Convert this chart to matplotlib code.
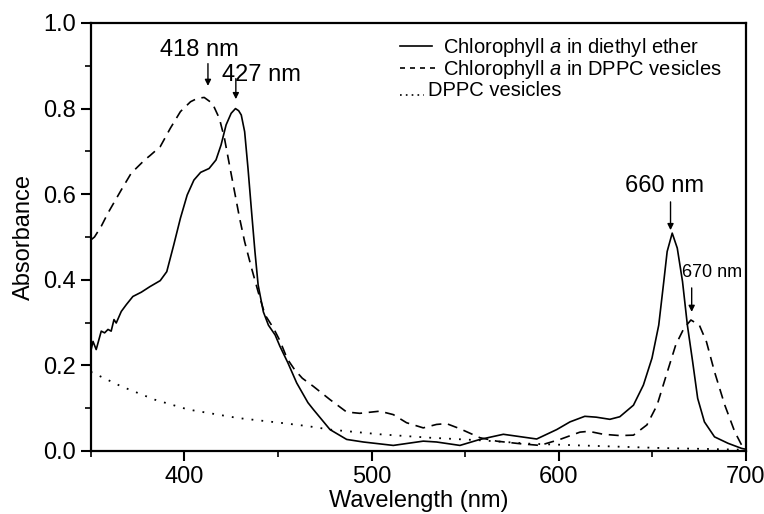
import matplotlib
matplotlib.use("Agg")
import matplotlib.pyplot as plt
from matplotlib.lines import Line2D
from matplotlib.ticker import MultipleLocator

plt.rcParams["font.family"] = "Liberation Sans"
plt.rcParams["mathtext.fontset"] = "custom"
plt.rcParams["mathtext.rm"] = "Liberation Sans"
plt.rcParams["mathtext.it"] = "Liberation Sans:italic"

# Chlorophyll a in diethyl ether (solid)
ether_nm = [350.0, 351.2, 352.9, 355.6, 357.4, 359.2, 360.9, 362.4, 363.6, 366.3,
            369.0, 372.5, 377.0, 381.6, 387.1, 390.6, 394.3, 397.9, 401.5, 405.1,
            408.7, 413.2, 416.9, 419.6, 422.3, 425.0, 427.3, 429.0, 430.4, 432.2,
            434.0, 435.9, 437.7, 439.4, 442.2, 444.9, 448.5, 451.0, 455.3, 460.0,
            466.0, 468.9, 477.8, 486.7, 495.6, 511.6, 527.6, 534.7, 547.2, 557.9,
            570.4, 588.2, 598.9, 606.0, 613.9, 620.0, 627.3, 632.6, 639.9, 645.2,
            649.8, 653.4, 656.1, 657.9, 660.6, 663.3, 666.1, 668.7, 671.5, 674.2,
            677.8, 683.2, 690.4, 697.7, 700.0]
ether_abs = [0.233, 0.256, 0.237, 0.280, 0.276, 0.284, 0.280, 0.307, 0.299, 0.326,
             0.342, 0.361, 0.371, 0.384, 0.398, 0.419, 0.481, 0.544, 0.598, 0.633,
             0.651, 0.660, 0.680, 0.715, 0.762, 0.789, 0.800, 0.795, 0.785, 0.746,
             0.660, 0.559, 0.466, 0.388, 0.325, 0.294, 0.271, 0.245, 0.206, 0.159,
             0.113, 0.097, 0.050, 0.027, 0.021, 0.013, 0.023, 0.021, 0.013, 0.027,
             0.039, 0.028, 0.050, 0.068, 0.081, 0.079, 0.074, 0.080, 0.107, 0.154,
             0.217, 0.294, 0.396, 0.466, 0.509, 0.474, 0.396, 0.294, 0.209, 0.123,
             0.068, 0.033, 0.018, 0.006, 0.004]

# Chlorophyll a in DPPC vesicles (dashed)
dppc_chl_nm = [350.3, 352.0, 355.6, 359.2, 366.3, 371.6, 378.8, 381.6, 387.1, 392.5,
               397.9, 403.3, 407.0, 410.6, 415.0, 418.7, 421.4, 424.1, 426.8, 429.5,
               432.2, 435.9, 439.4, 443.1, 447.6, 451.0, 455.0, 458.9, 463.0, 468.9,
               477.8, 486.7, 493.7, 504.4, 511.6, 518.7, 527.6, 534.7, 540.0, 547.2,
               557.9, 566.8, 579.3, 589.9, 600.6, 611.3, 616.0, 623.8, 632.6, 639.9,
               647.1, 652.5, 658.0, 662.5, 666.9, 670.6, 675.1, 678.9, 683.2, 688.7,
               694.0, 698.6]
dppc_chl_abs = [0.494, 0.500, 0.525, 0.556, 0.610, 0.649, 0.680, 0.690, 0.711, 0.754,
                0.793, 0.816, 0.824, 0.826, 0.812, 0.777, 0.731, 0.668, 0.606, 0.544,
                0.489, 0.427, 0.372, 0.318, 0.287, 0.258, 0.215, 0.190, 0.170, 0.151,
                0.120, 0.091, 0.088, 0.093, 0.085, 0.066, 0.054, 0.062, 0.064, 0.052,
                0.031, 0.023, 0.017, 0.013, 0.027, 0.044, 0.046, 0.039, 0.036, 0.037,
                0.061, 0.107, 0.185, 0.248, 0.287, 0.306, 0.294, 0.255, 0.185, 0.107,
                0.045, 0.006]

# DPPC vesicles alone (dotted)
dppc_nm = [350.0, 366.3, 384.1, 401.9, 428.6, 451.0, 466.0, 477.8, 504.4, 531.2,
           557.9, 584.6, 611.3, 653.9, 698.0]
dppc_abs = [0.185, 0.151, 0.120, 0.097, 0.077, 0.066, 0.058, 0.050, 0.039, 0.031,
            0.025, 0.017, 0.013, 0.007, 0.003]

legend_labels = ["Chlorophyll $\\it{a}$ in diethyl ether",
                 "Chlorophyll $\\it{a}$ in DPPC vesicles",
                 "DPPC vesicles"]

W, H = 764, 514
fig = plt.figure(figsize=(W / 100, H / 100), dpi=100)
ax = fig.add_axes([0.1188, 0.1226, 0.8576, 0.8327])

dash = (0, (6, 4))
dot = (0, (1, 4.5))
ax.plot(ether_nm, ether_abs, "-", color="black", lw=1.2)
ax.plot(dppc_chl_nm, dppc_chl_abs, color="black", lw=1.2, ls=dash)
ax.plot(dppc_nm, dppc_abs, color="black", lw=1.3, ls=dot)

ax.set_xlim(350, 700)
ax.set_ylim(0, 1.0)
ax.xaxis.set_major_locator(MultipleLocator(100))
ax.xaxis.set_minor_locator(MultipleLocator(50))
ax.yaxis.set_major_locator(MultipleLocator(0.2))
ax.yaxis.set_minor_locator(MultipleLocator(0.1))
ax.tick_params(which="major", direction="out", length=7, width=1.5, labelsize=17)
ax.tick_params(which="minor", direction="out", length=4, width=1.2)
for s in ax.spines.values():
    s.set_linewidth(1.6)

ax.set_xlabel("Wavelength (nm)", fontsize=17, labelpad=2)
ax.set_ylabel("Absorbance", fontsize=17, labelpad=6)

# peak markers
arrow = dict(arrowstyle="-|>", color="black", lw=1.0, mutation_scale=9, shrinkA=0, shrinkB=0)
ax.annotate("", xy=(412.6, 0.853), xytext=(412.6, 0.905), arrowprops=arrow)
ax.text(407.8, 0.937, "418 nm", fontsize=17, ha="center", va="center")
ax.annotate("", xy=(427.5, 0.822), xytext=(427.5, 0.870), arrowprops=arrow)
ax.text(441.0, 0.879, "427 nm", fontsize=17, ha="center", va="center")
ax.annotate("", xy=(659.7, 0.516), xytext=(659.7, 0.582), arrowprops=arrow)
ax.text(656.6, 0.619, "660 nm", fontsize=17, ha="center", va="center")
ax.annotate("", xy=(671.0, 0.325), xytext=(671.0, 0.381), arrowprops=arrow)
ax.text(682.0, 0.418, "670 nm", fontsize=13, ha="center", va="center", clip_on=False)

# hand-set legend (as typed in the original figure)
px = lambda x, y: (x / W, 1 - y / H)
styles = [("-", 400, 432, 46, 443), ((0, (3, 3)), 400, 437, 68, 443),
          ((0, (1, 2.5)), 400, 424, 95, 428)]
baselines = [53, 75, 96.5]
for (ls, x0, x1, yl, xt), lab, yb in zip(styles, legend_labels, baselines):
    (a0, b0), (a1, _) = px(x0, yl), px(x1, yl)
    fig.add_artist(Line2D([a0, a1], [b0, b0], color="black", lw=1.2, ls=ls,
                          transform=fig.transFigure))
    tx, ty = px(xt, yb)
    fig.text(tx, ty, lab, fontsize=14.5, ha="left", va="baseline")

fig.savefig("out.png", dpi=100)
